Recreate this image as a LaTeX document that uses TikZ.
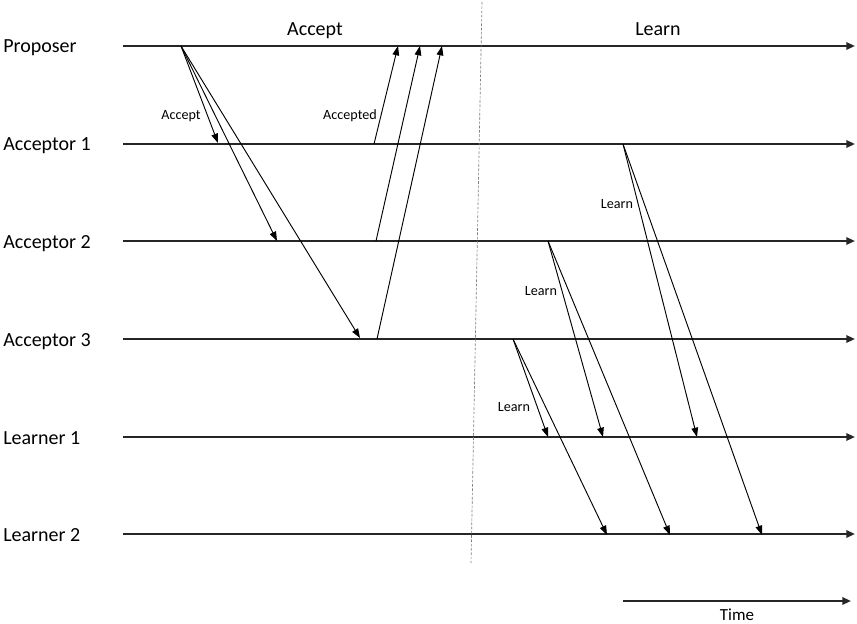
\documentclass[tikz,border=0pt]{standalone}
\usepackage{fontspec}
\setmainfont{Carlito}
\usetikzlibrary{arrows.meta}
\tikzset{
  tl/.style={line width=1.5pt, draw=black!85, -{Triangle[length=6.5pt,width=5.5pt]}},
  msg/.style={line width=0.7pt, -{Triangle[length=7pt,width=5pt]}},
  lane/.style={anchor=base west, inner sep=0pt, font=\fontsize{15}{18}\selectfont},
  small/.style={anchor=base, inner sep=0pt, font=\fontsize{10.6}{12}\selectfont},
  title/.style={anchor=base, inner sep=0pt, font=\fontsize{15}{18}\selectfont},
  divider/.style={draw=black!50, line width=0.5pt, dash pattern=on 2pt off 1.2pt}
}
\begin{document}
\begin{tikzpicture}[x=0.75pt,y=-0.75pt]
\useasboundingbox (0,0) rectangle (857,624);
% lane labels
\node[lane] (lp) at (3,53) {Proposer};
\node[lane] (la1) at (3,151) {Acceptor 1};
\node[lane] (la2) at (3,248) {Acceptor 2};
\node[lane] (la3) at (3,346) {Acceptor 3};
\node[lane] (ll1) at (3,444) {Learner 1};
\node[lane] (ll2) at (3,541) {Learner 2};
% timeline endpoints
\coordinate (p0) at (123,46);   \coordinate (p1) at (855,46);
\coordinate (a10) at (123,144); \coordinate (a11) at (855,144);
\coordinate (a20) at (123,241); \coordinate (a21) at (855,241);
\coordinate (a30) at (123,339); \coordinate (a31) at (855,339);
\coordinate (l10) at (123,437); \coordinate (l11) at (855,437);
\coordinate (l20) at (123,534); \coordinate (l21) at (855,534);
\draw[tl] (p0) -- (p1);
\draw[tl] (a10) -- (a11);
\draw[tl] (a20) -- (a21);
\draw[tl] (a30) -- (a31);
\draw[tl] (l10) -- (l11);
\draw[tl] (l20) -- (l21);
% divider
\coordinate (d0) at (482,2);
\coordinate (d1) at (471,563);
\draw[divider] (d0) -- (d1);
% titles
\node[title] (tacc) at (315,36) {Accept};
\node[title] (tlearn) at (658,36) {Learn};
% accept messages
\coordinate (ps) at (181,46);
\coordinate (acc1) at (218,143);
\coordinate (acc2) at (277,241);
\coordinate (acc3) at (360,338);
\draw[msg] (ps) -- (acc1);
\draw[msg] (ps) -- (acc2);
\draw[msg] (ps) -- (acc3);
\node[small] (lacc) at (181,120) {Accept};
% accepted messages
\coordinate (s1) at (374,144); \coordinate (r1) at (398,46);
\coordinate (s2) at (376,241); \coordinate (r2) at (420,46);
\coordinate (s3) at (377,339); \coordinate (r3) at (442,46);
\draw[msg] (s1) -- (r1);
\draw[msg] (s2) -- (r2);
\draw[msg] (s3) -- (r3);
\node[small] (laccd) at (350,120) {Accepted};
% learn messages
\coordinate (q1) at (623,144);
\coordinate (q1a) at (697,437); \coordinate (q1b) at (762,535);
\coordinate (q2) at (548,241);
\coordinate (q2a) at (603,437); \coordinate (q2b) at (670,535);
\coordinate (q3) at (513,339);
\coordinate (q3a) at (548,437); \coordinate (q3b) at (607,535);
\draw[msg] (q1) -- (q1a);
\draw[msg] (q1) -- (q1b);
\draw[msg] (q2) -- (q2a);
\draw[msg] (q2) -- (q2b);
\draw[msg] (q3) -- (q3a);
\draw[msg] (q3) -- (q3b);
\node[small] (ln1) at (617,209) {Learn};
\node[small] (ln2) at (541,295) {Learn};
\node[small] (ln3) at (514,411) {Learn};
% time arrow
\coordinate (t0) at (623,601);
\coordinate (t1) at (851,601);
\draw[tl] (t0) -- (t1);
\node[anchor=base, inner sep=0pt, font=\fontsize{12.7}{15}\selectfont] (ltime) at (737,620) {Time};
\end{tikzpicture}
\end{document}
